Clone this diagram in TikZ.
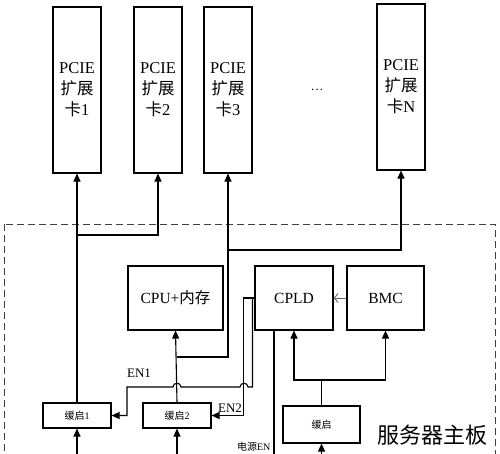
\documentclass[tikz,border=0pt]{standalone}
\usepackage{fontspec}
\setmainfont{Liberation Serif}
\newfontfamily\cjk{Noto Sans CJK SC}
\usetikzlibrary{arrows.meta}
\begin{document}
\begin{tikzpicture}[x=1pt,y=-1pt,
  line width=1.1pt,
  card/.style={draw,minimum width=48pt,minimum height=166pt,inner sep=0pt,align=center,
    font=\fontsize{16.5}{21}\selectfont},
  mbox/.style={draw,minimum width=#1,minimum height=64pt,inner sep=0pt,font=\fontsize{15.5}{17}\selectfont},
  buf/.style={draw,minimum width=68pt,minimum height=25pt,inner sep=0pt,font=\fontsize{10}{11}\selectfont},
  arr/.style={-{Triangle[length=8pt,width=7pt]}},
  lbl/.style={font=\fontsize{13}{14}\selectfont,inner sep=0pt}
]
\useasboundingbox (0,0) rectangle (500,453);
\clip (0,0) rectangle (500,453);

% PCIE cards
\node[card] (c1) at (77,90) {PCIE\\{\cjk 扩展}\\{\cjk 卡}1};
\node[card] (c2) at (158,90) {PCIE\\{\cjk 扩展}\\{\cjk 卡}2};
\node[card] (c3) at (228,90) {PCIE\\{\cjk 扩展}\\{\cjk 卡}3};
\node[card] (cn) at (401,87) {PCIE\\{\cjk 扩展}\\{\cjk 卡}N};
\node[font=\fontsize{13}{13}\selectfont] (dots) at (317,90) {\dots};

% dashed board
\draw[dash pattern=on 7pt off 4pt,line width=1pt,black!75] (4,224) rectangle (495,480);
\node[font=\cjk\fontsize{22}{24}\selectfont,inner sep=0pt] (board) at (432,435) {服务器主板};

% main boxes
\node[mbox=95pt] (cpu) at (175.5,298) {CPU+{\cjk 内存}};
\node[mbox=78pt] (cpld) at (294,298) {CPLD};
\node[mbox=77pt] (bmc) at (385.5,298) {BMC};

% buffers
\node[buf] (b1) at (77,415.5) {{\cjk 缓启}1};
\node[buf] (b2) at (177,415.5) {{\cjk 缓启}2};
\node[buf,minimum width=77pt,minimum height=37pt] (b3) at (321.5,424.5) {\cjk 缓启};

% coordinates
\coordinate (j1) at (77,235);
\coordinate (j2) at (177,357);
\coordinate (j3) at (228,250);
\coordinate (in1) at (77,470);
\coordinate (in2) at (177,470);
\coordinate (in3) at (321.5,470);
\coordinate (pwr) at (274,470);
\coordinate (j4) at (321.5,380);

% buffer1 -> cards 1,2
\draw[arr] (b1.north) -- (c1.south);
\draw[arr] (j1) -| (c2.south);
% buffer2 -> CPU, cards 3..N
\draw[arr] (b2.north) -- (cpu.south);
\draw (j2) -| (j3);
\draw[arr] (j3) -- (c3.south);
\draw[arr] (j3) -| (cn.south);

% inputs
\draw[arr] (in1) -- (b1.south);
\draw[arr] (in2) -- (b2.south);
\draw[arr] (in3) -- (b3.south);

% buffer3 -> CPLD, BMC
\draw (b3.north) -- (j4);
\draw[arr] (j4) -| (cpld.south);
\draw[arr] (j4) -| (bmc.south);

% BMC -> CPLD
\draw[-{Straight Barb[length=4pt,width=9pt]},black!60,line width=0.9pt] (bmc.west) -- (cpld.east);

% CPLD power EN line
\draw (cpld.south -| pwr) -- (pwr);
\node[font=\fontsize{10}{11}\selectfont,inner sep=0pt,anchor=south east] (pen) at (271,452) {{\cjk 电源}EN};

% EN2
\draw[arr] (cpld.west) -- ++(-11,0) |- (b2.east);
\node[lbl] (en2) at (230,408) {EN2};

% EN1 with hops
\draw[arr] (cpld.west) -- ++(-2,0) -- ++(0,89)
  -- (248,387) .. controls (248,382) and (240,382) .. (240,387)
  -- (181,387) .. controls (181,382) and (173,382) .. (173,387)
  -- (127,387) |- (b1.east);
\node[lbl] (en1) at (139,373) {EN1};
\end{tikzpicture}
\end{document}
